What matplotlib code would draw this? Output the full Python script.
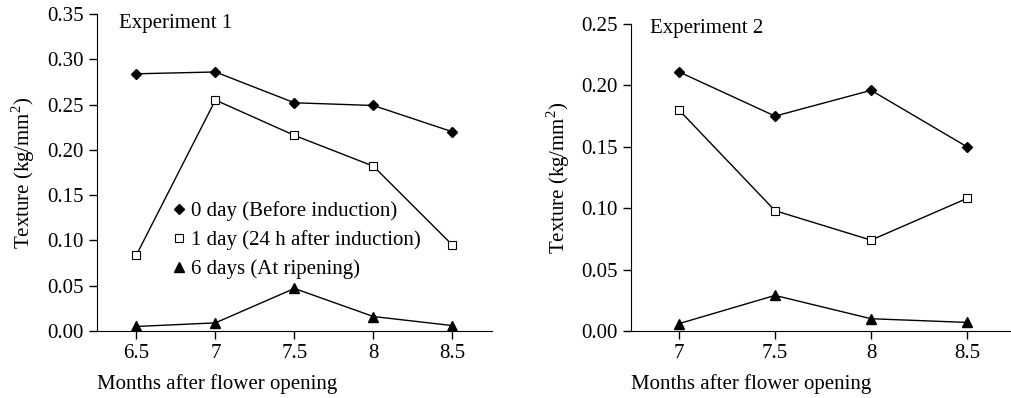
import matplotlib
matplotlib.use("Agg")
import matplotlib.pyplot as plt
from matplotlib.lines import Line2D

plt.rcParams['font.family'] = ['Liberation Serif', 'DejaVu Serif']
plt.rcParams['mathtext.fontset'] = 'custom'
plt.rcParams['mathtext.rm'] = 'Liberation Serif'

# === DATA ===
months_exp1 = [6.5, 7, 7.5, 8, 8.5]
day0_exp1 = [0.284, 0.286, 0.252, 0.249, 0.220]
day1_exp1 = [0.084, 0.255, 0.216, 0.182, 0.095]
day6_exp1 = [0.005, 0.009, 0.047, 0.016, 0.006]

months_exp2 = [7, 7.5, 8, 8.5]
day0_exp2 = [0.211, 0.175, 0.196, 0.150]
day1_exp2 = [0.180, 0.098, 0.074, 0.108]
day6_exp2 = [0.006, 0.029, 0.010, 0.007]

labels = ["0 day (Before induction)",
          "1 day (24 h after induction)",
          "6 days (At ripening)"]

fs = 15

# marker styles for the three series
styles = [
    dict(marker='D', ms=4.8, mfc='black', mec='black', mew=1),
    dict(marker='s', ms=5.4, mfc='white', mec='black', mew=0.8),
    dict(marker='^', ms=6.5, mfc='black', mec='black', mew=1),
]

fig = plt.figure(figsize=(10.12, 3.98), dpi=100)
ax1 = fig.add_axes([0.0958, 0.1683, 0.486 - 0.0958, 0.9648 - 0.1683])
ax2 = fig.add_axes([0.6235, 0.1683, 1.0 - 0.6235, 0.9397 - 0.1683])


def draw(ax, x, series):
    for ys, st in zip(series, styles):
        ax.plot(x, ys, color='black', lw=1, **st)
    for s in ['top', 'right']:
        ax.spines[s].set_visible(False)
    ax.tick_params(direction='out', length=6, width=1, labelsize=fs)
    ax.set_xlabel('Months after flower opening', fontsize=fs, labelpad=8,
                  loc='left')
    ax.set_ylabel('Texture (kg/mm$^2$)', fontsize=fs, labelpad=7)


draw(ax1, months_exp1, [day0_exp1, day1_exp1, day6_exp1])
ax1.set_xlim(6.25, 8.75)
ax1.set_ylim(0, 0.35)
ax1.set_xticks(months_exp1)
ax1.set_xticklabels(['6.5', '7', '7.5', '8', '8.5'])
ax1.set_yticks([0, 0.05, 0.1, 0.15, 0.2, 0.25, 0.3, 0.35])
ax1.set_yticklabels(['%.2f' % v for v in ax1.get_yticks()])
ax1.text(0.055, 0.97, 'Experiment 1', transform=ax1.transAxes,
         fontsize=fs, va='center', ha='left')

handles = [Line2D([], [], ls='none', **st) for st in styles]
ax1.legend(handles, labels, loc='upper left', bbox_to_anchor=(0.192, 0.41),
           frameon=False, fontsize=fs, handlelength=0.6, handletextpad=0.28,
           labelspacing=0.45, borderpad=0, borderaxespad=0)

draw(ax2, months_exp2, [day0_exp2, day1_exp2, day6_exp2])
ax2.set_xlim(6.75, 8.734)
ax2.set_ylim(0, 0.25)
ax2.set_xticks(months_exp2)
ax2.set_xticklabels(['7', '7.5', '8', '8.5'])
ax2.set_yticks([0, 0.05, 0.1, 0.15, 0.2, 0.25])
ax2.set_yticklabels(['%.2f' % v for v in ax2.get_yticks()])
ax2.text(0.05, 0.985, 'Experiment 2', transform=ax2.transAxes,
         fontsize=fs, va='center', ha='left')

fig.savefig('out.png', dpi=100)
